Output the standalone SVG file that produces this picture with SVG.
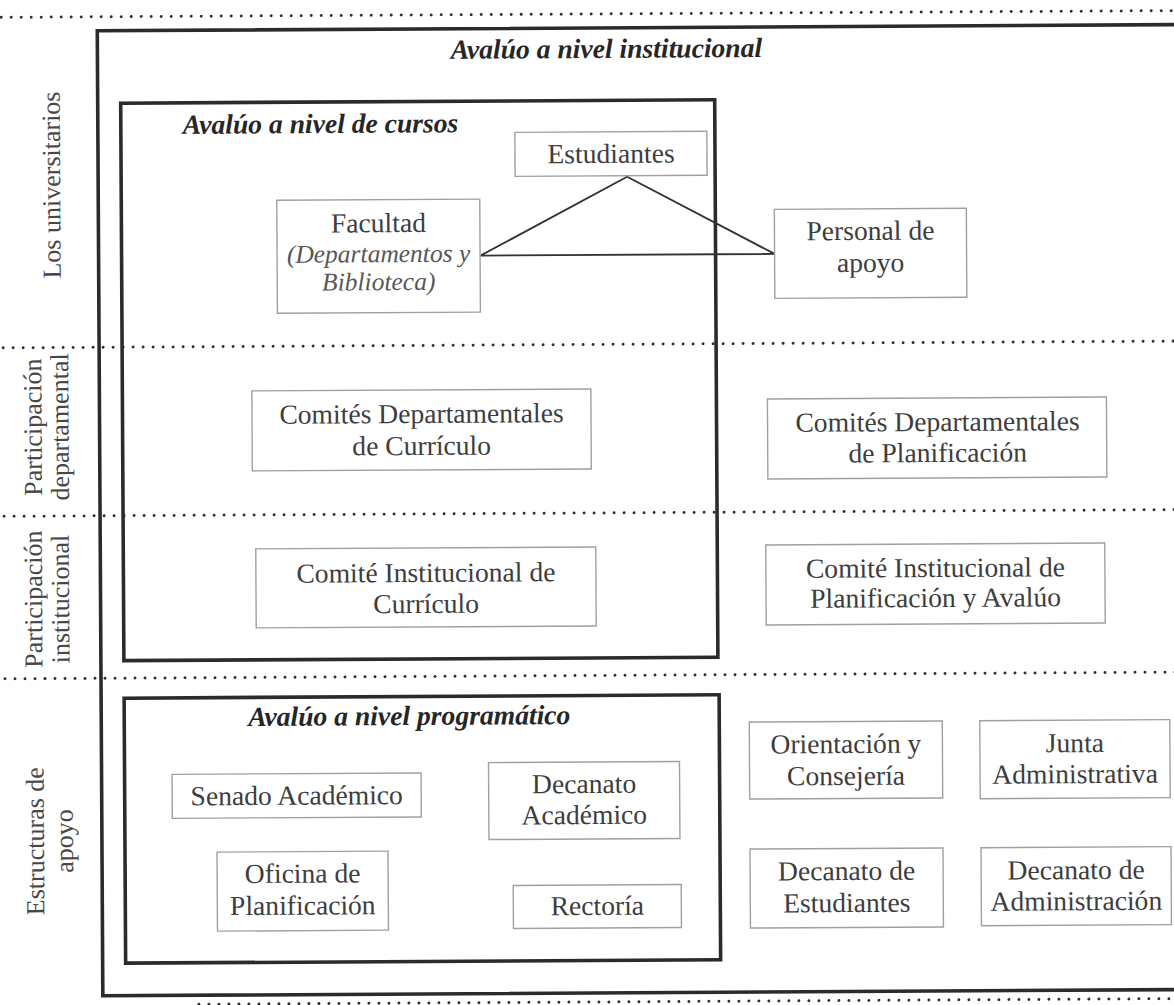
<svg xmlns="http://www.w3.org/2000/svg" width="1174" height="1005" viewBox="0 0 1174 1005" font-family="'Liberation Serif', Tinos, 'Times New Roman', 'DejaVu Serif', serif">
<style>
.thick{fill:none;stroke:#2b2b2b;stroke-width:3.6}
.dot{fill:none;stroke:#2e2e2e;stroke-width:3;stroke-dasharray:0 10;stroke-linecap:round}
.box{fill:#fff;stroke:#a0a0a0;stroke-width:1.4}
.conn{fill:none;stroke:#333;stroke-width:1.8;stroke-linejoin:miter}
.lbl{font-family:'Liberation Serif', Tinos, 'Times New Roman', 'DejaVu Serif', serif;font-size:27.6px;fill:#3d3d3d;text-anchor:middle}
.it{font-style:italic;font-size:25.5px;fill:#575757}
.title{font-family:'Liberation Serif', Tinos, 'Times New Roman', 'DejaVu Serif', serif;font-weight:bold;font-style:italic;font-size:27.6px;fill:#262626}
.side{font-family:'Liberation Serif', Tinos, 'Times New Roman', 'DejaVu Serif', serif;font-size:26px;fill:#474747;text-anchor:middle}
</style>
<rect x="0" y="0" width="1174" height="1005" fill="#fff"/>
<g transform="rotate(-0.33 587 502)">
  <g id="bands">
    <line class="dot" x1="-6" y1="14" x2="1182" y2="14"/>
    <line class="dot" x1="-6" y1="344.5" x2="1182" y2="344.5"/>
    <line class="dot" x1="-6" y1="513" x2="1182" y2="513"/>
    <line class="dot" x1="-6" y1="675.5" x2="1182" y2="675.5"/>
    <line class="dot" x1="196" y1="1002" x2="1182" y2="1002"/>
  </g>
  <g id="side-labels">
    <text class="side" transform="translate(62 182) rotate(-90)">Los universitarios</text>
    <text class="side" transform="translate(42 424) rotate(-90)">Participación</text>
    <text class="side" transform="translate(69 424) rotate(-90)">departamental</text>
    <text class="side" transform="translate(41.5 596) rotate(-90)">Participación</text>
    <text class="side" transform="translate(68.5 596) rotate(-90)">institucional</text>
    <text class="side" transform="translate(42 838) rotate(-90)">Estructuras de</text>
    <text class="side" transform="translate(71 838) rotate(-90)">apoyo</text>
  </g>
  <g id="institucional">
    <path class="thick" d="M1184,28 H100 V993 H1184"/>
    <text class="title" x="609" y="58" text-anchor="middle">Avalúo a nivel institucional</text>
  </g>
  <g id="cursos">
    <rect class="thick" x="123" y="100.5" width="594" height="557.5"/>
    <text class="title" x="185" y="131.5">Avalúo a nivel de cursos</text>
  </g>
  <g id="programatico">
    <rect class="thick" x="123" y="695.5" width="595" height="265"/>
    <text class="title" x="408" y="724" text-anchor="middle">Avalúo a nivel programático</text>
  </g>
  <g id="connectors">
    <path class="conn" d="M482,255 L629,177 L776,255 Z"/>
  </g>
  <g id="estudiantes">
    <rect class="box" x="517" y="132" width="192" height="44"/>
    <text class="lbl" x="613" y="163">Estudiantes</text>
  </g>
  <g id="facultad">
    <rect class="box" x="278.5" y="198.5" width="203" height="113"/>
    <text class="lbl" x="380" y="231">Facultad</text>
    <text class="lbl it" x="380" y="261">(Departamentos y</text>
    <text class="lbl it" x="380" y="289">Biblioteca)</text>
  </g>
  <g id="personal">
    <rect class="box" x="776" y="210.5" width="192" height="89"/>
    <text class="lbl" x="872" y="241.5">Personal de</text>
    <text class="lbl" x="872" y="273.5">apoyo</text>
  </g>
  <g id="comites-dep-curriculo">
    <rect class="box" x="252.5" y="389" width="339" height="80"/>
    <text class="lbl" x="422" y="422">Comités Departamentales</text>
    <text class="lbl" x="422" y="454">de Currículo</text>
  </g>
  <g id="comites-dep-planificacion">
    <rect class="box" x="768" y="400" width="339" height="80"/>
    <text class="lbl" x="938" y="433">Comités Departamentales</text>
    <text class="lbl" x="938" y="464">de Planificación</text>
  </g>
  <g id="comite-inst-curriculo">
    <rect class="box" x="255.5" y="547" width="340" height="79"/>
    <text class="lbl" x="425.5" y="581">Comité Institucional de</text>
    <text class="lbl" x="425.5" y="612">Currículo</text>
  </g>
  <g id="comite-inst-planificacion">
    <rect class="box" x="765.5" y="546" width="339" height="80"/>
    <text class="lbl" x="935" y="579">Comité Institucional de</text>
    <text class="lbl" x="935" y="609">Planificación y Avalúo</text>
  </g>
  <g id="senado">
    <rect class="box" x="170.5" y="772" width="249" height="44"/>
    <text class="lbl" x="295" y="803">Senado Académico</text>
  </g>
  <g id="decanato-academico">
    <rect class="box" x="487" y="762" width="191" height="77"/>
    <text class="lbl" x="582.5" y="793">Decanato</text>
    <text class="lbl" x="582.5" y="824">Académico</text>
  </g>
  <g id="oficina-planificacion">
    <rect class="box" x="215" y="850" width="171" height="79"/>
    <text class="lbl" x="300.5" y="881">Oficina de</text>
    <text class="lbl" x="300.5" y="913">Planificación</text>
  </g>
  <g id="rectoria">
    <rect class="box" x="511" y="885" width="168" height="43"/>
    <text class="lbl" x="595" y="915">Rectoría</text>
  </g>
  <g id="orientacion">
    <rect class="box" x="748" y="723" width="193" height="77"/>
    <text class="lbl" x="844.5" y="754.5">Orientación y</text>
    <text class="lbl" x="844.5" y="786.5">Consejería</text>
  </g>
  <g id="junta">
    <rect class="box" x="978.5" y="723" width="190" height="78"/>
    <text class="lbl" x="1073.5" y="755">Junta</text>
    <text class="lbl" x="1073.5" y="786">Administrativa</text>
  </g>
  <g id="decanato-estudiantes">
    <rect class="box" x="748" y="850" width="193" height="79"/>
    <text class="lbl" x="844.5" y="881.5">Decanato de</text>
    <text class="lbl" x="844.5" y="913.5">Estudiantes</text>
  </g>
  <g id="decanato-administracion">
    <rect class="box" x="979" y="850" width="190" height="78"/>
    <text class="lbl" x="1074" y="882">Decanato de</text>
    <text class="lbl" x="1074" y="913">Administración</text>
  </g>
</g>
</svg>
